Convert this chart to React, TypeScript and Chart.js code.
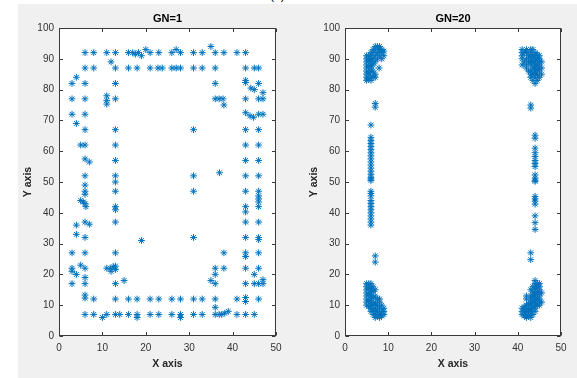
import { useEffect, useRef } from "react";
import { Chart, registerables } from "chart.js";

Chart.register(...registerables);

const xTicks = [0, 10, 20, 30, 40, 50];
const yTicks = [0, 10, 20, 30, 40, 50, 60, 70, 80, 90, 100];
const titles = ["GN=1", "GN=20"];
const xLabel = "X axis";
const yLabel = "Y axis";
const figLabel = "(b)";

// GN=1 points (x, y)
const gn1Points: [number, number][] = [
  [6, 92], [8, 92], [11, 92], [13, 92], [16, 92], [17, 92], [17.6, 91.5], [18.3, 92], [19, 91], [20, 93], [21, 92],
  [23, 92], [26, 92], [27, 93], [28, 92], [31, 92], [33, 92], [35, 94], [36, 92], [38, 92], [41, 92], [43, 92],
  [12, 89],
  [6, 87], [8, 87], [13, 87], [16, 87], [18, 87], [21, 87], [22.8, 87], [23.8, 87], [26, 87], [27, 87], [28, 87],
  [31, 87], [33, 87], [36, 87], [43, 87], [45, 87], [46, 87],
  [3, 82], [4, 84], [6, 82], [13, 82], [36, 82], [43, 83], [43, 82.3], [44.2, 80.5], [45, 80], [46, 82], [47, 79],
  [3, 77], [6, 77], [11, 78], [11, 76.5], [11, 75.3], [13, 77], [36, 77], [36.9, 77], [37.8, 77], [38, 75],
  [43, 77], [46, 77], [47, 77],
  [3, 72], [6, 72], [4, 69], [43, 72.5], [44, 71.5], [44.8, 71], [46, 72], [47, 72],
  [6, 67], [13, 67], [31, 67], [43, 67], [46, 67],
  [5, 62], [6, 62], [13, 62], [43, 62], [46, 62],
  [6, 57.5], [7, 56.5], [13, 57], [43, 57], [46, 57],
  [6, 52], [13, 52], [31, 52], [37, 53], [43, 52], [46, 52],
  [6, 49], [13, 50], [6, 47], [6, 46], [13, 47], [31, 47], [43, 47], [46, 47], [46, 45.5], [46, 44.5], [46, 43.5],
  [5, 44], [5.6, 43.5], [6, 43], [6.2, 42], [13, 42], [13, 41], [43, 42], [43, 40.3], [46, 42],
  [4, 36], [6, 37], [7, 36.3], [13, 37], [43, 37], [46, 37],
  [4, 33], [6, 32], [19, 31], [31, 32], [43, 32], [46, 32], [46, 31.3],
  [3, 27], [6, 27], [13, 27], [38, 27], [43, 27], [43, 25.8], [46, 27],
  [3, 22], [3, 21], [4, 20], [5, 23], [6, 22], [6, 19], [11, 22], [11.8, 22], [12, 21], [12.5, 22.5], [13, 22.7],
  [13, 21.6], [36, 22], [38, 22], [36, 20], [43, 22], [46, 22], [45, 20],
  [3, 17], [6, 17], [13, 17], [15, 18], [35, 18], [36, 17], [43, 17], [45, 17], [46, 17], [47, 18.3], [47, 17],
  [6, 13.3], [6, 12.3], [8, 12], [13, 12], [16, 12], [18, 12], [21, 12], [23, 12], [26, 12], [28, 12], [31, 12],
  [33, 12], [36, 12], [41, 12], [43, 12.5], [43, 11.2], [46, 12],
  [6, 7], [8, 7], [10, 6], [11, 7], [13, 7], [14, 7], [16, 7], [18, 7], [18, 6], [21, 7], [23, 7], [26, 7],
  [28, 7], [28, 6], [31, 7], [33, 7], [36, 9.3], [36, 7], [36.9, 7], [37.5, 7], [38.2, 7.4], [39, 8], [41, 7],
  [43, 7], [45, 7],
];

// GN=20 clusters
const gn20TopLeft: [number, number][] = [
  [5, 83], [5, 84], [5, 85], [5, 86], [5, 87], [5, 88], [5, 89], [5, 90], [5, 91],
  [5.5, 83.5], [5.5, 85.5], [5.5, 87.5], [5.5, 89.5], [5.5, 91],
  [6, 83], [6, 84.5], [6, 86], [6, 87], [6, 88], [6, 89], [6, 90], [6, 91], [6, 92],
  [6.5, 84], [6.5, 86], [6.5, 88], [6.5, 90], [6.5, 92], [6.5, 93],
  [7, 84], [7, 85], [7, 89], [7, 91], [7, 93], [7, 94],
  [7.5, 90], [7.5, 92], [7.5, 94], [7.9, 87],
  [8, 91], [8, 93], [8, 94],
  [8.5, 90], [8.5, 92], [8.5, 93],
  [9, 91], [9, 92.5],
];
const gn20LeftColumn: [number, number][] = [
  [7, 75.5], [7, 74.3], [6, 68.5], [6, 64.5], [6, 63.5], [6, 62.5], [6, 61.5], [6, 60.5], [6, 59.5], [6, 58.5],
  [6, 57.5], [6, 56.5], [6, 55.5], [6, 54.5], [6, 53.5], [6, 52.5], [6, 51.5], [6, 51], [6, 50.5],
  [6, 47], [6, 46.3], [6, 45.5], [6, 44], [6, 43], [6, 42], [6, 41], [6, 40], [6, 39], [6, 38], [6, 37], [6, 36],
  [7, 26], [7, 24],
];
const gn20BottomLeft: [number, number][] = [
  [5, 10], [5, 11], [5, 12], [5, 13], [5, 14], [5, 15], [5, 16], [5, 17],
  [5.5, 9.5], [5.5, 11.5], [5.5, 13.5], [5.5, 15.5], [5.5, 17],
  [6, 8], [6, 9], [6, 10], [6, 11], [6, 12], [6, 13], [6, 14], [6, 15], [6, 16], [6, 17],
  [6.5, 7], [6.5, 8.5], [6.5, 10.5], [6.5, 12.5], [6.5, 14.5], [6.5, 16],
  [7, 6], [7, 7], [7, 8], [7, 9], [7, 10], [7, 11], [7, 13], [7, 15],
  [7.5, 6.5], [7.5, 8], [7.5, 10], [7.5, 12],
  [8, 6], [8, 7], [8, 9], [8, 11], [8, 12],
  [8.5, 6.5], [8.5, 8], [8.5, 10],
  [9, 7], [9, 8], [9, 9],
];
const gn20TopRight: [number, number][] = [
  [41, 88], [41, 90], [41, 91], [41, 92], [41, 93],
  [41.5, 89], [41.5, 92],
  [42, 87], [42, 88], [42, 90], [42, 92], [42, 93],
  [42.5, 86], [42.5, 89], [42.5, 91],
  [43, 84], [43, 85], [43, 86], [43, 88], [43, 89], [43, 90], [43, 91], [43, 92], [43, 93],
  [43.5, 83], [43.5, 85], [43.5, 87], [43.5, 89], [43.5, 91], [43.5, 93],
  [44, 82], [44, 84], [44, 85], [44, 86], [44, 87], [44, 88], [44, 89], [44, 90], [44, 91], [44, 92],
  [44.5, 83], [44.5, 85], [44.5, 86.5], [44.5, 88], [44.5, 90], [44.5, 91.5],
  [45, 84], [45, 86], [45, 87], [45, 88], [45, 89], [45, 90], [45, 91],
  [45.5, 85], [45.5, 87], [45.5, 89],
];
const gn20RightColumn: [number, number][] = [
  [43, 75], [43, 74], [44, 65.2], [44, 64.2], [44, 61], [44, 59.5], [44, 58.3], [44, 57], [44, 56], [44, 55],
  [44, 52.3], [44, 51.3], [44, 50.6], [44, 50.2], [44, 45.3], [44, 44.5], [44, 43.8], [44, 42.8], [44, 39],
  [44, 36.8], [44, 34.6], [43, 27], [43, 24.8],
];
const gn20BottomRight: [number, number][] = [
  [41, 7], [41, 8], [41, 9],
  [41.5, 6.5], [41.5, 8], [41.5, 9.5],
  [42, 6], [42, 7], [42, 8], [42, 9], [42, 10], [42, 12], [42, 13],
  [42.5, 6.5], [42.5, 8.5], [42.5, 10.5],
  [43, 6], [43, 7], [43, 8], [43, 9], [43, 10], [43, 11], [43, 12], [43, 13], [43, 15],
  [43.5, 7], [43.5, 9], [43.5, 11], [43.5, 13], [43.5, 14], [43.5, 16],
  [44, 8], [44, 9], [44, 10], [44, 11], [44, 12], [44, 13], [44, 14], [44, 15], [44, 16], [44, 17], [44, 18],
  [44.5, 10], [44.5, 12], [44.5, 14], [44.5, 16], [44.5, 17],
  [45, 10], [45, 11], [45, 12], [45, 13], [45, 14], [45, 15], [45, 16], [45, 17],
  [45.5, 11], [45.5, 14],
];

const gn20Points: [number, number][] = [
  ...gn20TopLeft, ...gn20LeftColumn, ...gn20BottomLeft,
  ...gn20TopRight, ...gn20RightColumn, ...gn20BottomRight,
];

const FONT = '"Liberation Sans", Arial, Helvetica, sans-serif';
const AXIS_COLOR = "#3a3a3a";
const MARKER_COLOR = "#0072BD";

const framePlugin = {
  id: "matlabFrame",
  beforeDraw(chart: any) {
    const { ctx, chartArea: a } = chart;
    ctx.save();
    ctx.fillStyle = "#ffffff";
    ctx.fillRect(a.left, a.top, a.right - a.left, a.bottom - a.top);
    ctx.restore();
  },
  afterDraw(chart: any) {
    const { ctx, chartArea: a } = chart;
    const title = chart.options.plugins.matlabFrame.title as string;
    const xs = chart.scales.x;
    const ys = chart.scales.y;
    const L = Math.round(a.left) + 0.5;
    const R = Math.round(a.right) - 0.5;
    const T = Math.round(a.top) + 0.5;
    const B = Math.round(a.bottom) - 0.5;
    ctx.save();
    ctx.strokeStyle = AXIS_COLOR;
    ctx.lineWidth = 1;
    ctx.strokeRect(L, T, R - L, B - T);
    const tl = 3.5;
    ctx.beginPath();
    xTicks.forEach((v) => {
      const px = Math.round(xs.getPixelForValue(v)) + 0.5;
      ctx.moveTo(px, B);
      ctx.lineTo(px, B - tl);
      ctx.moveTo(px, T);
      ctx.lineTo(px, T + tl);
    });
    yTicks.forEach((v) => {
      const py = Math.round(ys.getPixelForValue(v)) + 0.5;
      ctx.moveTo(L, py);
      ctx.lineTo(L + tl, py);
      ctx.moveTo(R, py);
      ctx.lineTo(R - tl, py);
    });
    ctx.stroke();

    ctx.fillStyle = "#000000";
    ctx.textAlign = "center";
    ctx.textBaseline = "middle";
    ctx.font = `bold 11px ${FONT}`;
    ctx.fillText(title, (a.left + a.right) / 2, 19);

    ctx.fillStyle = "#262626";
    ctx.font = `bold 10.5px ${FONT}`;
    ctx.fillText(xLabel, (a.left + a.right) / 2, 364);
    ctx.translate(a.left - 30.5, (a.top + a.bottom) / 2);
    ctx.rotate(-Math.PI / 2);
    ctx.fillText(yLabel, 0, 0);
    ctx.restore();
  },
};

function makeChart(canvas: HTMLCanvasElement, points: [number, number][], title: string, padLeft: number, padRight: number) {
  return new Chart(canvas, {
    type: "scatter",
    data: {
      datasets: [
        {
          data: points.map(([x, y]) => ({ x, y })),
          pointStyle: "star",
          pointRadius: 3.4,
          pointHoverRadius: 3.4,
          borderWidth: 1,
          borderColor: MARKER_COLOR,
          backgroundColor: MARKER_COLOR,
        },
      ],
    },
    options: {
      responsive: false,
      animation: false,
      events: [],
      layout: { padding: { left: padLeft, right: padRight, top: 28, bottom: 0 } },
      plugins: {
        legend: { display: false },
        tooltip: { enabled: false },
        title: { display: false },
        matlabFrame: { title },
      } as any,
      scales: {
        x: {
          type: "linear",
          min: 0,
          max: 50,
          afterBuildTicks: (s: any) => {
            s.ticks = xTicks.map((v) => ({ value: v }));
          },
          afterFit: (s: any) => {
            s.height = 42;
          },
          grid: { display: false, drawTicks: false },
          border: { display: false },
          ticks: {
            padding: 6,
            autoSkip: false,
            maxRotation: 0,
            color: "#333333",
            font: { family: FONT, size: 10 },
          },
        },
        y: {
          type: "linear",
          min: 0,
          max: 100,
          afterBuildTicks: (s: any) => {
            s.ticks = yTicks.map((v) => ({ value: v }));
          },
          afterFit: (s: any) => {
            s.width = 59;
          },
          grid: { display: false, drawTicks: false },
          border: { display: false },
          ticks: {
            padding: 5,
            autoSkip: false,
            color: "#333333",
            font: { family: FONT, size: 10 },
          },
        },
      },
    },
    plugins: [framePlugin],
  });
}

export default function App() {
  const c1 = useRef<HTMLCanvasElement>(null);
  const c2 = useRef<HTMLCanvasElement>(null);

  useEffect(() => {
    document.body.style.margin = "0";
    const ch1 = makeChart(c1.current!, gn1Points, titles[0], 0, 577 - 276);
    const ch2 = makeChart(c2.current!, gn20Points, titles[1], 345 - 59, 577 - 561);
    return () => {
      ch1.destroy();
      ch2.destroy();
    };
  }, []);

  const canvasStyle: React.CSSProperties = { position: "absolute", left: 0, top: 0, width: 577, height: 378 };

  return (
    <div style={{ position: "fixed", left: 0, top: 0, width: 577, height: 378, background: "#ffffff", overflow: "hidden" }}>
      <div
        style={{
          position: "absolute",
          left: 270,
          top: -12,
          fontFamily: FONT,
          fontSize: 12,
          lineHeight: "14px",
          color: "#000",
          whiteSpace: "nowrap",
        }}
      >
        {figLabel}
      </div>
      <div style={{ position: "absolute", left: 18, top: 4, width: 559, height: 374, background: "#f0f0f0" }} />
      <canvas ref={c1} width={577} height={378} style={canvasStyle} />
      <canvas ref={c2} width={577} height={378} style={canvasStyle} />
    </div>
  );
}
